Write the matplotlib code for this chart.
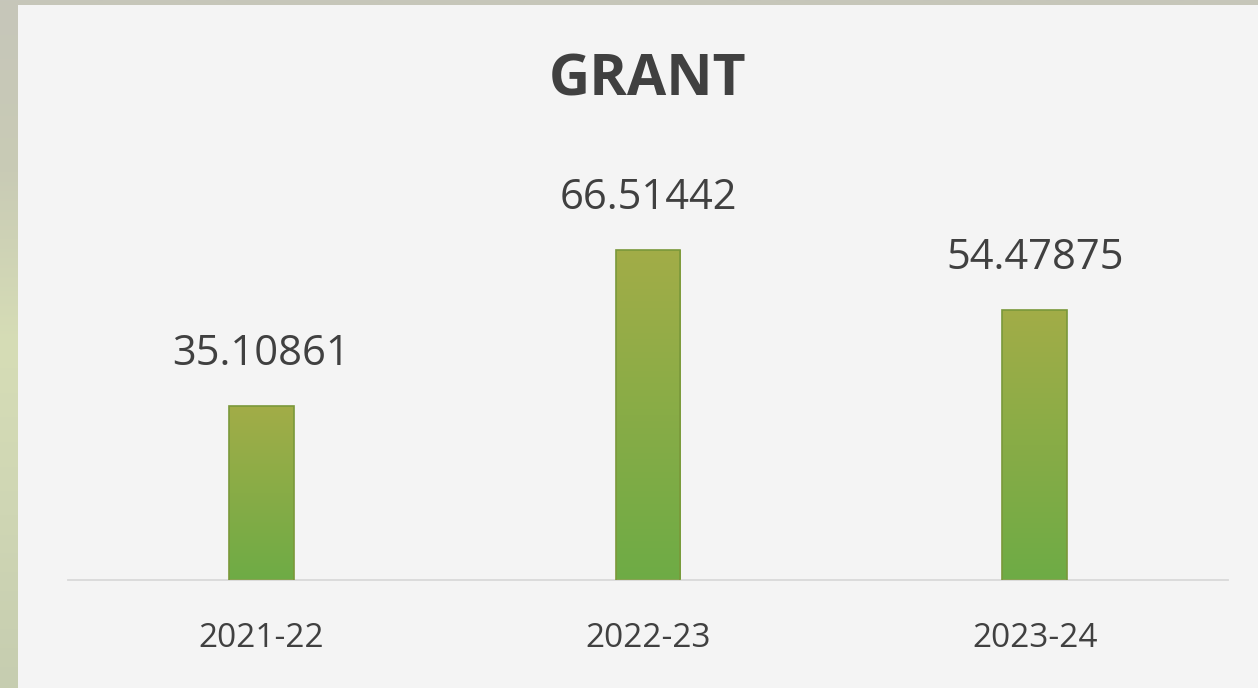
import numpy as np
import matplotlib
matplotlib.use("Agg")
import matplotlib.pyplot as plt
from matplotlib.patches import Rectangle
from matplotlib.colors import LinearSegmentedColormap

categories = ["2021-22", "2022-23", "2023-24"]
values = [35.10861, 66.51442, 54.47875]
title = "GRANT"

W, H = 1258, 688
fig = plt.figure(figsize=(W / 100, H / 100), dpi=100)

# background strip (outside panel)
bg = fig.add_axes([0, 0, 1, 1])
bg.set_axis_off()
grad = np.linspace(0, 1, 256).reshape(-1, 1)
bgcmap = LinearSegmentedColormap.from_list("bg", ["#c6c6ba", "#c9cbb5", "#d6ddb6", "#cfd6b4", "#c6cdb0"])
bg.imshow(grad, aspect="auto", cmap=bgcmap, extent=[0, 1, 0, 1], origin="upper")
bg.set_xlim(0, 1); bg.set_ylim(0, 1)
bg.add_patch(Rectangle((18 / W, 0), 1, (H - 5) / H, facecolor="#f4f4f4", edgecolor="none",
                       transform=bg.transAxes))

# plot axes: x 68..1228, baseline y=580
left, right = 68, 1228
base = 580
ppu = 4.956
ymax = 80
top = base - ymax * ppu
ax = fig.add_axes([left / W, (H - base) / H, (right - left) / W, (base - top) / H])
ax.set_facecolor("none")
ax.set_xlim(-0.5, 2.5)
ax.set_ylim(0, ymax)
for s in ["top", "right", "left"]:
    ax.spines[s].set_visible(False)
ax.spines["bottom"].set_color("#d9d9d9")
ax.spines["bottom"].set_linewidth(1.3)
ax.set_yticks([])
ax.set_xticks([])
for i, cat in enumerate(categories):
    ax.text(i, -67 / ppu, cat, ha="center", va="baseline", fontsize=24,
            color="#404040", family="Open Sans", clip_on=False)

barw = 0.168
cmap = LinearSegmentedColormap.from_list("g", ["#6eab45", "#a2ad48"])
bars = ax.bar(range(len(values)), values, width=barw, color="none", edgecolor="#7a983a", linewidth=1.2, zorder=3)
for b, v in zip(bars, values):
    x0 = b.get_x()
    ax.imshow(grad[::-1], aspect="auto", cmap=cmap, extent=[x0, x0 + barw, 0, v], origin="upper", zorder=2)
    ax.text(b.get_x() + barw / 2, v + 41 / ppu, f"{v:.5f}", ha="center", va="baseline",
            fontsize=30, color="#404040", family="Open Sans")
ax.set_xlim(-0.5, 2.5)
ax.set_ylim(0, ymax)

fig.text(648 / W, 1 - 80 / H, title, ha="center", va="center", fontsize=41, fontweight="bold",
         color="#404040", family="Open Sans")

fig.savefig("out.png", dpi=100)
